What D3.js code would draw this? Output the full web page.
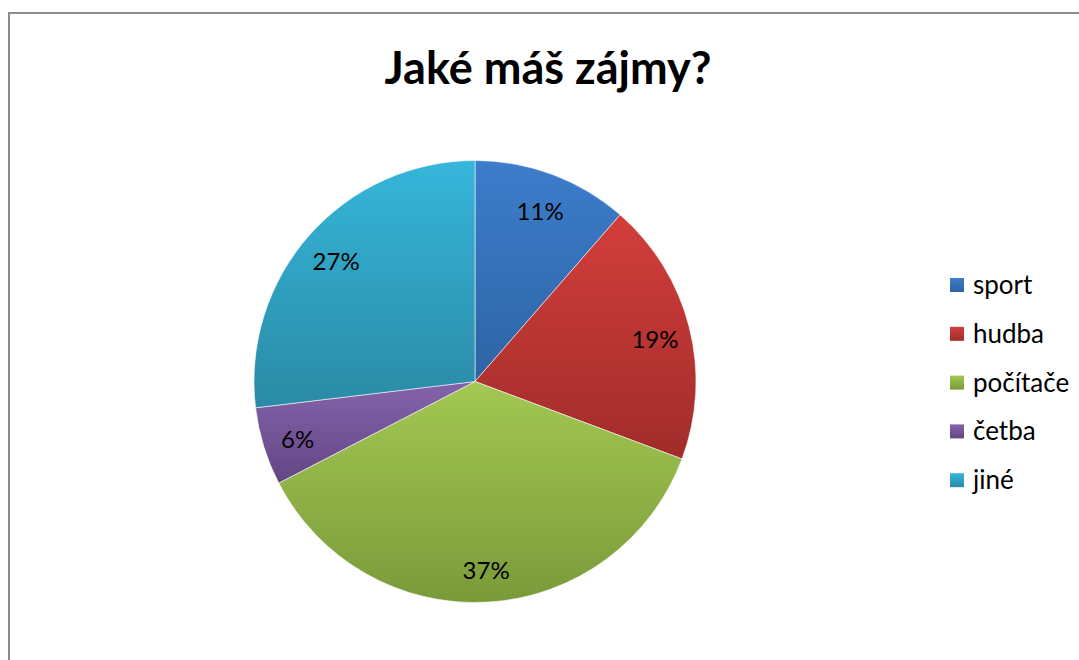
<!DOCTYPE html>
<html>
<head>
<meta charset="utf-8">
<script src="https://cdn.jsdelivr.net/npm/d3@7"></script>
<style>
    body { margin: 0; background: #fff; }
    svg { display: block; font-family: Lato, "Open Sans", sans-serif; }
</style>
</head>
<body>
<svg id="chart" width="1079" height="660"></svg>
<script>
'use strict';
const title = "Jaké máš zájmy?";
const categories = ["sport", "hudba", "počítače", "četba", "jiné"];
const values = [11.4, 19.3, 36.7, 5.7, 26.9];
const colorsTop = ["#3d7dcc", "#d23e3c", "#a3c852", "#8563ab", "#36b6da"];
const colorsBottom = ["#2d64a4", "#a12c2a", "#7a9a3a", "#634684", "#2a8aa5"];

let svg = d3.select("#chart");

// frame
svg.append("rect")
    .attr("x", 9).attr("y", 13)
    .attr("width", 1100).attr("height", 700)
    .attr("fill", "none")
    .attr("stroke", "#8c8c8c")
    .attr("stroke-width", 2);

let defs = svg.append("defs");
categories.forEach((c, i) => {
    let g = defs.append("linearGradient")
        .attr("id", "grad" + i)
        .attr("x1", 0).attr("y1", 0).attr("x2", 0).attr("y2", 1);
    g.append("stop").attr("offset", "0%").attr("stop-color", colorsTop[i]);
    g.append("stop").attr("offset", "100%").attr("stop-color", colorsBottom[i]);
});

svg.append("text")
    .attr("x", 548).attr("y", 84)
    .attr("text-anchor", "middle")
    .attr("font-size", 45)
    .attr("font-weight", "bold")
    .attr("fill", "#000")
    .text(title);

let cx = 475, cy = 381.5, radius = 221;
let data = categories.map((c, i) => ({name: c, value: values[i], idx: i}));
let total = d3.sum(values);

let pie = d3.pie().sort(null).value(d => d.value);
let arc = d3.arc().innerRadius(0).outerRadius(radius);
let labelArc = d3.arc().innerRadius(radius * 0.84).outerRadius(radius * 0.84);

let pg = svg.append("g").attr("transform", "translate(" + cx + "," + cy + ")");
let arcs = pie(data);

pg.selectAll("path")
    .data(arcs)
    .enter().append("path")
    .attr("d", arc)
    .attr("fill", d => "url(#grad" + d.data.idx + ")")
    .attr("stroke", "#ffffff")
    .attr("stroke-opacity", 0.55)
    .attr("stroke-width", 1);

pg.selectAll("text")
    .data(arcs)
    .enter().append("text")
    .attr("transform", d => "translate(" + labelArc.centroid(d) + ")")
    .attr("text-anchor", "middle")
    .attr("dy", "0.5em")
    .attr("font-size", 24)
    .attr("fill", "#000")
    .text(d => d3.format(".0%")(d.data.value / total));

// legend
let legend = svg.append("g").attr("transform", "translate(950,278)");
let row = legend.selectAll("g")
    .data(data)
    .enter().append("g")
    .attr("transform", (d, i) => "translate(0," + (i * 48.8) + ")");
row.append("rect")
    .attr("width", 14).attr("height", 14)
    .attr("fill", d => "url(#grad" + d.idx + ")");
row.append("text")
    .attr("x", 23).attr("y", 16)
    .attr("font-size", 26)
    .attr("fill", "#000")
    .text(d => d.name);
</script>
</body>
</html>
